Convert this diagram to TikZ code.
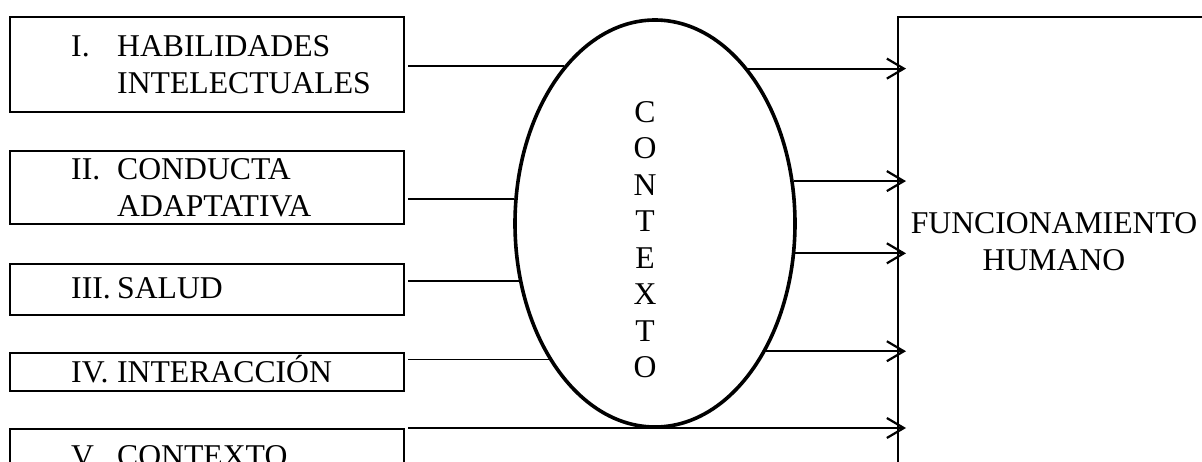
\documentclass[tikz,border=0pt]{standalone}
\usepackage{fontspec}
\setmainfont{Liberation Serif}
\usetikzlibrary{shapes.geometric,arrows.meta}
\begin{document}
\begin{tikzpicture}[x=1pt,y=-1pt,
  box/.style={draw,line width=2pt,minimum width=394.5pt,inner sep=0pt,anchor=north west},
  txt/.style={inner sep=0pt,font=\fontsize{31.7}{36.5}\selectfont},
  lbl/.style={txt,anchor=base west},
  conn/.style={line width=1.8pt,shorten <=3pt},
  arr/.style={line width=1.8pt,-{Straight Barb[length=17pt,width=20pt,line width=2.2pt]}}]
\useasboundingbox (0,0) rectangle (1202,462);
\clip (0,0) rectangle (1202,462);
% left boxes
\node[box,minimum height=94.7pt] (b1) at (8.5,16) {};
\node[box,minimum height=73pt] (b2) at (8.5,150) {};
\node[box,minimum height=51pt] (b3) at (8.5,263) {};
\node[box,minimum height=38pt] (b4) at (8.5,352) {};
\node[box,minimum height=70pt] (b5) at (8.5,428) {};
\node[lbl] (t1) at (71,57) {\begin{tabular}[t]{@{}p{46pt}@{}l@{}}I. & HABILIDADES\\ & INTELECTUALES\end{tabular}};
\node[lbl] (t2) at (71,180) {\begin{tabular}[t]{@{}p{46pt}@{}l@{}}II. & CONDUCTA\\ & ADAPTATIVA\end{tabular}};
\node[lbl] (t3) at (71,299) {\begin{tabular}[t]{@{}p{46pt}@{}l@{}}III. & SALUD\end{tabular}};
\node[lbl] (t4) at (71,382) {\begin{tabular}[t]{@{}p{46pt}@{}l@{}}IV. & INTERACCIÓN\end{tabular}};
\node[lbl] (t5) at (71,466) {\begin{tabular}[t]{@{}p{46pt}@{}l@{}}V. & CONTEXTO\end{tabular}};
% ellipse
\node[draw,ellipse,line width=3.6pt,minimum width=280pt,minimum height=407pt,inner sep=0pt] (ell) at (655,223.5) {};
\node[txt,anchor=north,align=center] (ctx) at (645,101) {C\\O\\N\\T\\E\\X\\T\\O};
% right box
\node[draw,line width=2pt,anchor=north west,minimum width=340pt,minimum height=480pt,inner sep=0pt] (fh) at (897,16) {};
\node[txt,align=center] (fht) at (1054,241.5) {FUNCIONAMIENTO\\HUMANO};
\coordinate (tipx) at (906,0);
% left connectors
\draw[conn] (b1.east |- ell.120.94) -- (ell.120.94);
\draw[conn] (b2.east |- ell.170.4) -- (ell.170.4);
\draw[conn] (b3.east |- ell.203.9) -- (ell.203.9);
\draw[conn] (b4.east |- ell.232.7) -- (ell.232.7);
% right arrows
\draw[arr] (ell.59.06) -- (tipx |- ell.59.06);
\draw[arr] (ell.17.2) -- (tipx |- ell.17.2);
\draw[arr] (ell.348.8) -- (tipx |- ell.348.8);
\draw[arr] (ell.311.6) -- (tipx |- ell.311.6);
\draw[arr,shorten <=3pt] (b5.north east) -- (tipx |- b5.north east);
\end{tikzpicture}
\end{document}
